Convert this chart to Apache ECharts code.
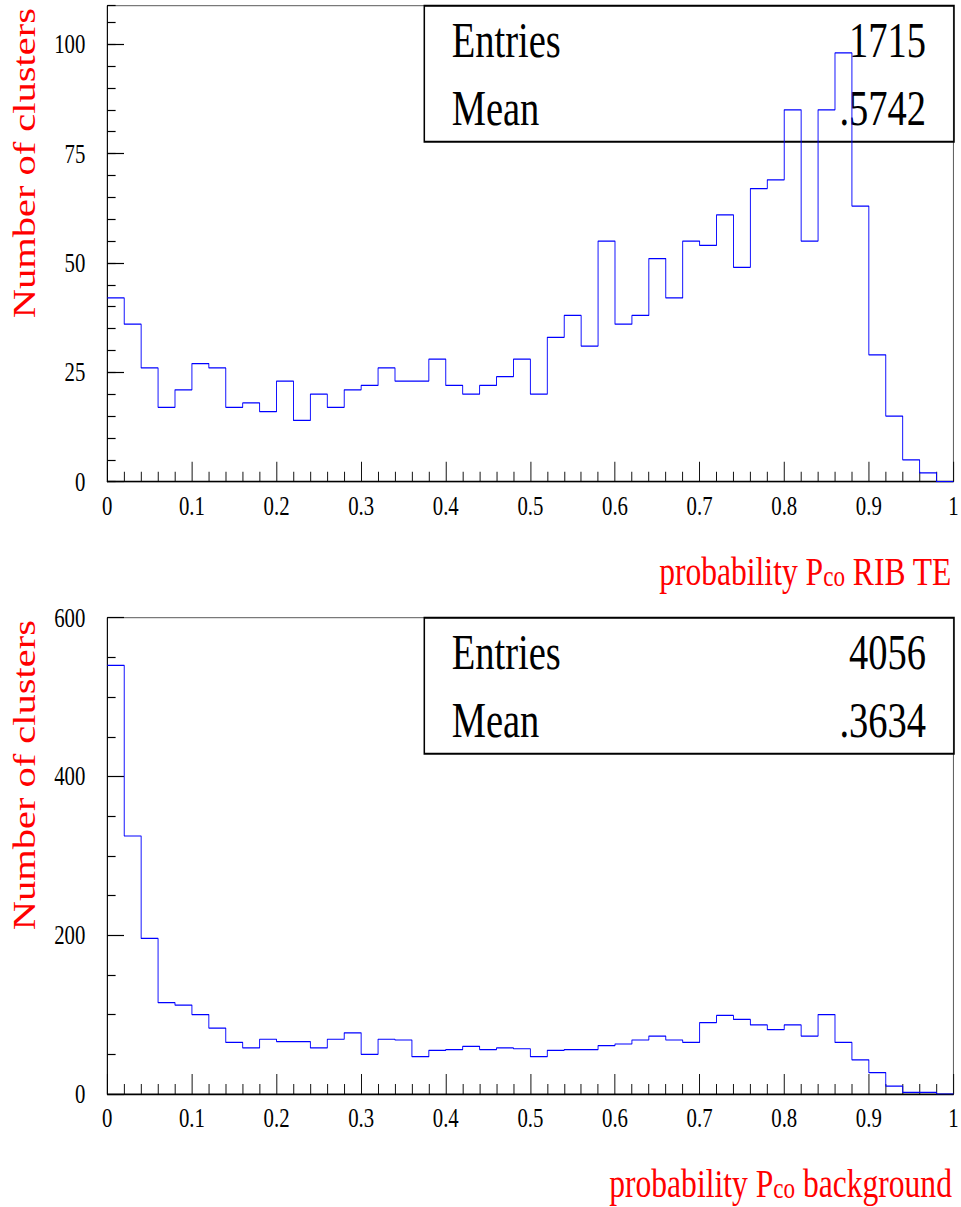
<!DOCTYPE html>
<html>
<head>
<meta charset="utf-8">
<script src="https://cdn.jsdelivr.net/npm/echarts@6/dist/echarts.min.js"></script>
<style>
  html, body { margin: 0; padding: 0; overflow: hidden; background: #fff; }
  #chart { height: 1207px; transform-origin: 0 0; }
</style>
</head>
<body>
<div id="chart"></div>
<script>
// the reference is squeezed horizontally (text too), so draw wider and squeeze with css
var SX = 0.77;
var FONT = '"Liberation Serif", "Times New Roman", serif';

var binWidth = 0.02;

// counts per bin, 50 bins on [0, 1]
var ribTeCounts = [
  42, 36, 26, 17, 21, 27, 26, 17, 18, 16,
  23, 14, 20, 17, 21, 22, 26, 23, 23, 28,
  22, 20, 22, 24, 28, 20, 33, 38, 31, 55,
  36, 38, 51, 42, 55, 54, 61, 49, 67, 69,
  85, 55, 85, 98, 63, 29, 15, 5, 2, 0
];
var backgroundCounts = [
  540, 325, 196, 115, 112, 100, 83, 65, 58, 69,
  66, 66, 58, 69, 77, 50, 69, 68, 47, 55,
  56, 60, 56, 58, 57, 47, 55, 56, 56, 61,
  63, 68, 73, 68, 65, 90, 99, 94, 87, 81,
  87, 73, 100, 65, 43, 27, 10, 2, 2, 0
];

var statNames = ['Entries', 'Mean'];
var ribTeStats = ['1715', '.5742'];
var backgroundStats = ['4056', '.3634'];

var yTitle = 'Number of clusters';
var ribTeXTitle = ['probability P', 'co', ' RIB TE'];
var backgroundXTitle = ['probability P', 'co', ' background'];

var dom = document.getElementById('chart');
var W = Math.round(961 / SX);
dom.style.width = W + 'px';
dom.style.transform = 'scaleX(' + SX + ')';

function px(x) {
  return x / SX;
}

function stepPoints(counts) {
  var pts = counts.map(function (c, i) {
    return [i * binWidth, c];
  });
  pts.push([counts.length * binWidth, counts[counts.length - 1]]);
  return pts;
}

function xAxisFor(grid) {
  return {
    type: 'value',
    gridIndex: grid,
    min: 0,
    max: 1,
    interval: 0.1,
    axisLine: { lineStyle: { color: '#000', width: 1.3 } },
    axisTick: { inside: true, length: 20, lineStyle: { color: '#000', width: 1.2 } },
    minorTick: { show: true, splitNumber: 5, length: 10, lineStyle: { color: '#000', width: 1.2 } },
    splitLine: { show: false },
    axisLabel: {
      margin: 11,
      color: '#000',
      fontFamily: FONT,
      fontSize: 27,
      formatter: function (v) {
        if (v === 0 || v === 1) return String(v);
        return v.toFixed(1);
      }
    }
  };
}

function yLabel() {
  return { margin: px(22), color: '#000', fontFamily: FONT, fontSize: 27 };
}

function statsBox(top, values, textTops) {
  var left = px(424.3);
  var right = px(954);
  var els = [{
    type: 'rect',
    shape: { x: left, y: top, width: right - left, height: 136 },
    style: { fill: 'rgba(0,0,0,0)', stroke: '#000', lineWidth: 2 },
    z: 1
  }];
  statNames.forEach(function (name, i) {
    els.push({
      type: 'text', x: px(451.7), y: textTops[i], z: 1,
      style: { text: name, font: '50px ' + FONT, fill: '#000', align: 'left', verticalAlign: 'middle' }
    });
    els.push({
      type: 'text', x: px(926), y: textTops[i], z: 1,
      style: { text: values[i], font: '50px ' + FONT, fill: '#000', align: 'right', verticalAlign: 'middle' }
    });
  });
  return els;
}

function xTitle(parts, top) {
  return {
    text: '{m|' + parts[0] + '}{s|' + parts[1] + '}{m|' + parts[2] + '}',
    right: px(9),
    top: top,
    padding: 0,
    textStyle: {
      fontWeight: 'normal',
      rich: {
        m: {
          fontFamily: FONT, fontSize: 41, fontWeight: 'normal', color: '#f00',
          lineHeight: 41, verticalAlign: 'top', padding: [0, 0, 3, 0]
        },
        s: {
          fontFamily: FONT, fontSize: 30, fontWeight: 'normal', color: '#f00',
          lineHeight: 30, verticalAlign: 'bottom'
        }
      }
    }
  };
}

function yTitleText(y) {
  return {
    type: 'text',
    x: px(9),
    y: y,
    rotation: Math.PI / 2,
    style: { text: yTitle, font: '40.5px ' + FONT, fill: '#f00', align: 'right', verticalAlign: 'top' }
  };
}

var chart = echarts.init(dom, null, { renderer: 'svg' });

chart.setOption({
  animation: false,
  backgroundColor: '#fff',
  title: [xTitle(ribTeXTitle, 550), xTitle(backgroundXTitle, 1162)],
  grid: [
    { left: px(107.3), right: W - px(954), top: 5.7, height: 476, show: true, borderColor: '#444', borderWidth: 1 },
    { left: px(107.3), right: W - px(954), top: 617.7, height: 476.3, show: true, borderColor: '#444', borderWidth: 1 }
  ],
  xAxis: [xAxisFor(0), xAxisFor(1)],
  yAxis: [
    {
      type: 'value', gridIndex: 0, min: 0, max: 108.8, interval: 25, position: 'left',
      axisLine: { show: true, lineStyle: { color: '#000', width: 1.3 } },
      axisTick: { inside: true, length: px(16.7), lineStyle: { color: '#000', width: 1.2 } },
      splitLine: { show: false },
      axisLabel: Object.assign(yLabel(), { showMaxLabel: false })
    },
    {
      // minor ticks every 5 for the top panel
      type: 'value', gridIndex: 0, min: 0, max: 108.8, interval: 5, position: 'left',
      axisLine: { show: false },
      axisTick: { inside: true, length: px(8.3), lineStyle: { color: '#000', width: 1.2 } },
      splitLine: { show: false },
      axisLabel: { show: false }
    },
    {
      type: 'value', gridIndex: 1, min: 0, max: 600, interval: 200, position: 'left',
      axisLine: { show: true, lineStyle: { color: '#000', width: 1.3 } },
      axisTick: { inside: true, length: px(16.7), lineStyle: { color: '#000', width: 1.2 } },
      minorTick: { show: true, splitNumber: 4, length: px(8.3), lineStyle: { color: '#000', width: 1.2 } },
      splitLine: { show: false },
      axisLabel: yLabel()
    }
  ],
  graphic: [].concat(
    statsBox(5.7, ribTeStats, [40, 108.3]),
    statsBox(617.7, backgroundStats, [652, 719.7]),
    [yTitleText(8), yTitleText(620)]
  ),
  series: [
    {
      type: 'line', xAxisIndex: 0, yAxisIndex: 0, step: 'end', symbol: 'none', z: 5,
      lineStyle: { color: '#0000ff', width: 1.2 },
      data: stepPoints(ribTeCounts)
    },
    {
      type: 'line', xAxisIndex: 1, yAxisIndex: 2, step: 'end', symbol: 'none', z: 5,
      lineStyle: { color: '#0000ff', width: 1.2 },
      data: stepPoints(backgroundCounts)
    }
  ]
});
</script>
</body>
</html>
